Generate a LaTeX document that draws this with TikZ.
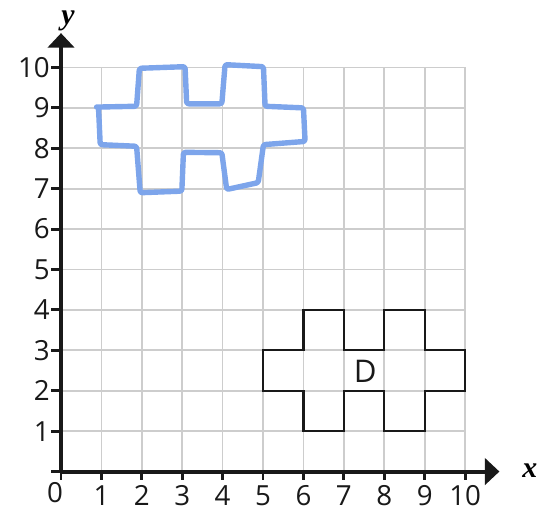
\documentclass[tikz,border=0pt]{standalone}
\usepackage{fontspec}
\setmainfont{Open Sans}
\newfontfamily\axisfont{Liberation Serif}
\usetikzlibrary{arrows.meta}
\definecolor{gridgray}{RGB}{205,205,205}
\definecolor{penblue}{RGB}{125,165,235}
\tikzset{
  gridline/.style={gridgray,line width=1.2pt},
  axisline/.style={black!90,line width=2.8pt,-{Triangle[width=0.65cm,length=0.36cm]}},
  tickmark/.style={black!90,line width=2pt},
  ticklabel/.style={font=\fontsize{19.5}{20}\selectfont,inner sep=0pt,text=black!90},
  shapeD/.style={black!90,line width=1.6pt,line join=miter},
  handshape/.style={penblue,line width=3.8pt,line join=round,line cap=round,rounded corners=1.5pt},
  axislabel/.style={font=\axisfont\fontsize{21}{22}\selectfont\bfseries\itshape,inner sep=0pt}
}
\begin{document}
\begin{tikzpicture}
\useasboundingbox (-1.51,-1.0) rectangle (11.78,11.67);
% grid
\draw[gridline] (0,0) grid (10,10);
% axes
\coordinate (O) at (0,0);
\coordinate (xend) at (10.85,0);
\coordinate (yend) at (0,10.85);
\draw[axisline] (O) -- (xend);
\draw[axisline] (O) -- (yend);
% ticks
\foreach \i in {0,...,10} {
  \draw[tickmark] (\i,0) -- (\i,-0.22);
  \draw[tickmark] (0,\i) -- (-0.24,\i);
}
% tick labels
\node[ticklabel] (x0) at (-0.15,-0.53) {0};
\foreach \i in {1,...,10} {
  \node[ticklabel] (x\i) at (\i,-0.59) {\i};
  \node[ticklabel,anchor=east] (y\i) at (-0.27,\i) {\i};
}
% axis labels
\node[axislabel] (xl) at (11.6,0.03) {x};
\node[axislabel] (yl) at (0.17,11.15) {y};
% shape D
\draw[shapeD] (5,2) -- (5,3) -- (6,3) -- (6,4) -- (7,4) -- (7,3) -- (8,3) -- (8,4) -- (9,4) -- (9,3) -- (10,3) -- (10,2) -- (9,2) -- (9,1) -- (8,1) -- (8,2) -- (7,2) -- (7,1) -- (6,1) -- (6,2) -- cycle;
\node[ticklabel,font=\fontsize{22}{23}\selectfont] (D) at (7.53,2.47) {D};
% hand-drawn blue shape
\draw[handshape] (0.88,9.02) -- (1.87,9.04) -- (1.94,9.98) -- (3.07,10.02) -- (3.11,9.10) -- (3.98,9.10) -- (4.06,10.07) -- (5.01,10.02) -- (5.05,9.04) -- (6.0,9.0) -- (6.04,8.17) -- (5.01,8.09) -- (4.88,7.15) -- (4.10,6.98) -- (3.98,7.89) -- (3.03,7.90) -- (2.99,6.94) -- (1.96,6.90) -- (1.87,8.05) -- (0.97,8.09) -- (0.93,8.96);
\end{tikzpicture}
\end{document}
